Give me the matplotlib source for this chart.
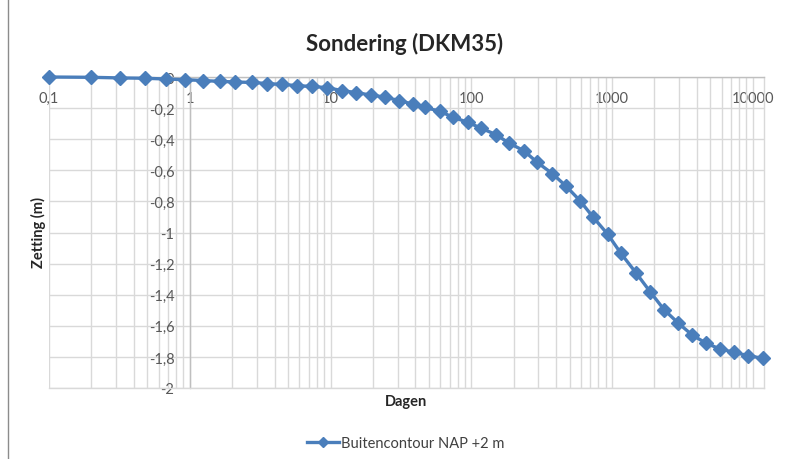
import numpy as np
import matplotlib
matplotlib.use('Agg')
import matplotlib.pyplot as plt
from matplotlib.ticker import LogLocator, NullFormatter
from matplotlib.lines import Line2D

plt.rcParams['font.family'] = ['Lato', 'DejaVu Sans']

# --- data ---
days = [0.1, 0.2, 0.32, 0.48, 0.68, 0.92, 1.24, 1.64, 2.09, 2.75, 3.55, 4.54, 5.75,
        7.34, 9.38, 12.0, 15.1, 19.3, 24.3, 30.8, 38.3, 46.8, 59.8, 74.3, 94.1,
        118, 150, 186, 236, 294, 377, 470, 591, 734, 929, 1155, 1477, 1871, 2344,
        2946, 3704, 4637, 5831, 7333, 9265, 11730]
zetting = [0.0, -0.002, -0.006, -0.008, -0.013, -0.017, -0.023, -0.028, -0.032,
           -0.035, -0.042, -0.048, -0.055, -0.061, -0.068, -0.087, -0.100, -0.116,
           -0.129, -0.152, -0.174, -0.195, -0.221, -0.259, -0.291, -0.330, -0.371,
           -0.426, -0.474, -0.549, -0.622, -0.701, -0.795, -0.902, -1.010, -1.134,
           -1.259, -1.383, -1.497, -1.582, -1.659, -1.711, -1.749, -1.770, -1.792,
           -1.809]
series_name = "Buitencontour NAP +2 m"
title = "Sondering (DKM35)"
x_label = "Dagen"
y_label = "Zetting (m)"
x_ticks = [0.1, 1, 10, 100, 1000, 10000]
x_tick_labels = ["0,1", "1", "10", "100", "1000", "10000"]
y_ticks = [0, -0.2, -0.4, -0.6, -0.8, -1, -1.2, -1.4, -1.6, -1.8, -2]
y_tick_labels = ["0", "-0,2", "-0,4", "-0,6", "-0,8", "-1", "-1,2", "-1,4",
                 "-1,6", "-1,8", "-2"]

W, H = 789, 460
fig = plt.figure(figsize=(W / 100, H / 100), dpi=100)
left, right, top, bottom = 49, 764, 78, 389
ax = fig.add_axes([left / W, 1 - bottom / H, (right - left) / W, (bottom - top) / H])

blue = '#4A7EBB'
ax.plot(days, zetting, color=blue, lw=2.4, marker='D', ms=6.8,
        mec=blue, mfc=blue, label=series_name, clip_on=False, zorder=3)

ax.set_xscale('log')
ax.set_xlim(0.1, 12000)
ax.set_ylim(-2, 0)
ax.set_xticks(x_ticks)
ax.set_xticklabels(x_tick_labels)
ax.xaxis.set_minor_locator(LogLocator(base=10, subs=np.arange(2, 10)))
ax.xaxis.set_minor_formatter(NullFormatter())
ax.set_yticks(y_ticks)
ax.set_yticklabels(y_tick_labels)

grid_c = '#d9d9d9'
ax.grid(True, which='both', axis='x', color=grid_c, lw=1.0)
ax.grid(True, which='major', axis='y', color=grid_c, lw=1.0)
ax.set_axisbelow(True)

ax.spines['left'].set_position(('data', 1))
ax.spines['left'].set_color('#bfbfbf')
ax.spines['top'].set_color('#bfbfbf')
ax.spines['right'].set_color(grid_c)
ax.spines['bottom'].set_color(grid_c)
for s in ax.spines.values():
    s.set_linewidth(1.0)

ax.tick_params(axis='x', which='both', length=0, bottom=False, top=False,
               labelbottom=False, labeltop=True, pad=-20, labelsize=10.5,
               labelcolor='#595959')
ax.tick_params(axis='y', which='both', length=0, pad=11, labelsize=10.5,
               labelcolor='#595959')

fig.text(405 / W, 1 - 44 / H, title, ha='center', va='center',
         fontsize=16, fontweight='bold', color='#262626')
fig.text(406 / W, 1 - 402 / H, x_label, ha='center', va='center',
         fontsize=10.5, fontweight='bold', color='#262626')
fig.text(38 / W, 1 - 233 / H, y_label, ha='center', va='center', rotation=90,
         fontsize=10.5, fontweight='bold', color='#262626')

fig.legend(loc='center', bbox_to_anchor=(406 / W, 1 - 444 / H), frameon=False,
           fontsize=10.5, handlelength=2.2, handletextpad=0.15, numpoints=1,
           markerscale=0.7, labelcolor='#404040')

fig.add_artist(Line2D([8 / W, 8 / W], [0, 1], transform=fig.transFigure,
                      color='#8c8c8c', lw=1.0))

fig.savefig('out.png', dpi=100)
